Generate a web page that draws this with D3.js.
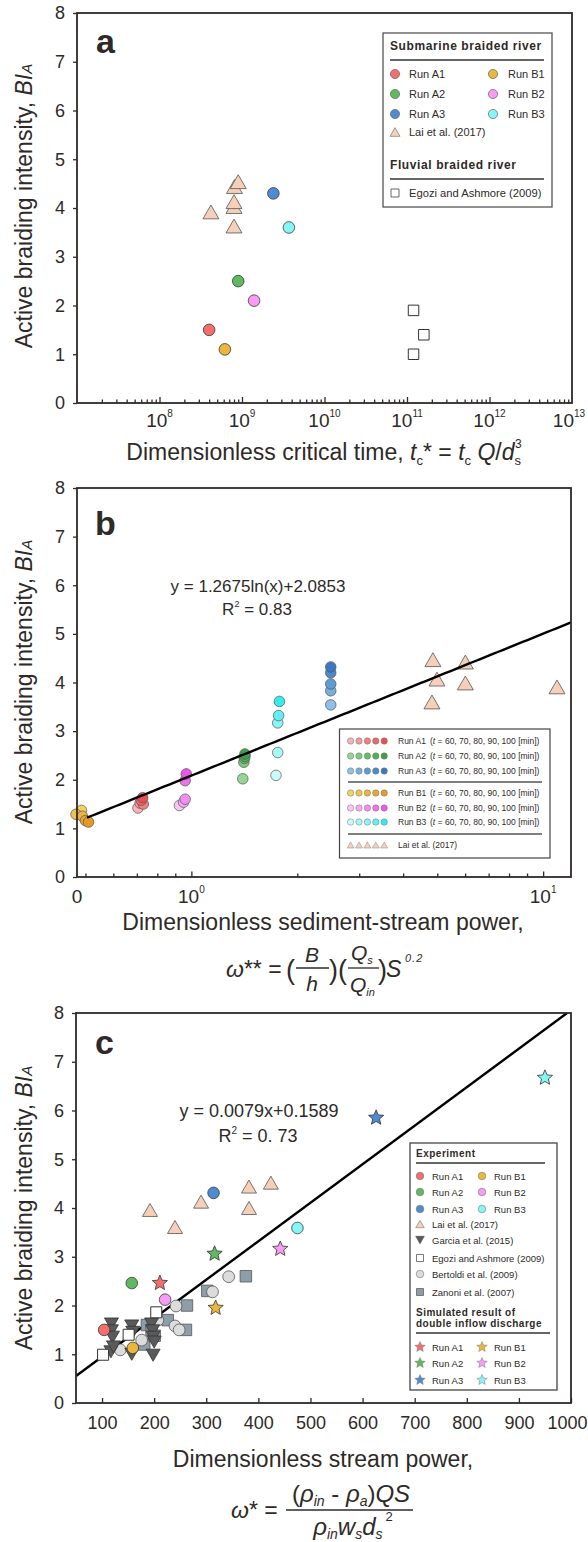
<!DOCTYPE html>
<html><head><meta charset="utf-8">
<script src="https://d3js.org/d3.v7.min.js"></script>
<style>
body{margin:0;background:#fff}
svg text{font-family:'Liberation Sans',Arial,Helvetica,sans-serif;fill:#2e2a28}
</style></head><body>
<svg id="chart" width="588" height="1542" xmlns="http://www.w3.org/2000/svg"></svg>
<script>
// ================= DATA =================
// shared run names
const runNames = ["Run A1","Run A2","Run A3","Run B1","Run B2","Run B3"];

// ---- Panel a : BI_A vs dimensionless critical time ----
const aRunT   = [4.0e8, 9.0e8, 2.4e9, 6.2e8, 1.4e9, 3.7e9];
const aRunBI  = [1.5, 2.5, 4.3, 1.1, 2.1, 3.6];
const aLaiT   = [4.2e8, 8.0e8, 8.0e8, 8.0e8, 8.1e8, 9.0e8];
const aLaiBI  = [3.92, 3.63, 4.03, 4.13, 4.44, 4.54];
const aEgoziT = [1.2e11, 1.6e11, 1.2e11];
const aEgoziBI= [1.9, 1.4, 1.0];
const aTickExp = [8, 9, 10, 11, 12, 13];

// ---- Panel b : BI_A vs dimensionless sediment-stream power (t = 60..100 min) ----
const bTimes = [60, 70, 80, 90, 100];
const bA1W = [0.705, 0.715, 0.73, 0.72, 0.727], bA1BI = [1.42, 1.52, 1.50, 1.58, 1.63];
const bA2W = [1.40, 1.41, 1.415, 1.42, 1.42],   bA2BI = [2.02, 2.36, 2.44, 2.48, 2.53];
const bA3W = [2.49, 2.49, 2.49, 2.49, 2.49],    bA3BI = [3.54, 3.83, 3.97, 4.20, 4.32];
const bB1W = [0.487, 0.47, 0.49, 0.50, 0.51],   bB1BI = [1.37, 1.29, 1.25, 1.16, 1.13];
const bB2W = [0.925, 0.95, 0.96, 0.96, 0.967],  bB2BI = [1.47, 1.54, 1.60, 1.98, 2.12];
const bB3W = [1.74, 1.76, 1.76, 1.77, 1.78],    bB3BI = [2.09, 2.56, 3.17, 3.32, 3.61];
const bLaiW = [4.86, 4.99, 6.01, 4.83, 6.01, 10.95];
const bLaiBI = [4.47, 4.07, 4.42, 3.60, 3.99, 3.91];
const bFitA = 1.2675, bFitB = 2.0853, bFitR2 = "0.83";
const bTickLabels = ["0", "10", "10"];

// ---- Panel c : BI_A vs dimensionless stream power ----
const cRunW  = [104, 157, 314, 159, 221, 475];
const cRunBI = [1.50, 2.46, 4.31, 1.13, 2.12, 3.59];
const cSimW  = [211, 316, 626, 318, 442, 950];
const cSimBI = [2.46, 3.06, 5.85, 1.95, 3.16, 6.67];
const cLaiW  = [192, 240, 290, 382, 382, 424];
const cLaiBI = [3.96, 3.61, 4.13, 4.44, 4.00, 4.52];
const cGarciaW  = [118, 118, 120, 117, 122, 157, 159, 157, 195, 197, 198, 200, 198];
const cGarciaBI = [1.62, 1.48, 1.35, 1.05, 1.15, 1.58, 1.45, 1.00, 1.62, 1.48, 1.35, 1.25, 0.98];
const cEgoziW  = [102, 151, 204];
const cEgoziBI = [0.99, 1.40, 1.86];
const cBertW  = [135, 176, 207, 240, 248, 242, 312, 343];
const cBertBI = [1.09, 1.29, 1.70, 1.58, 1.50, 1.99, 2.28, 2.59];
const cZanW  = [181, 186, 195, 201, 226, 261, 263, 302, 376];
const cZanBI = [1.20, 1.60, 1.50, 1.38, 1.70, 1.50, 2.00, 2.30, 2.60];
const cFitA = 0.0079, cFitB = 0.1589, cFitR2 = "0. 73";
const cTicks = [100, 200, 300, 400, 500, 600, 700, 800, 900, 1000];
const yTicks = [0, 1, 2, 3, 4, 5, 6, 7, 8];

// ================= STYLE =================
const runColors = ["#f46e6e", "#5fb961", "#4f8bd0", "#e8b73c", "#f79bf4", "#85f5f5"];
const timeColors = [
  ["#f8b4b4", "#f59999", "#f27f7f", "#ef6666", "#ec4e4e"],
  ["#93d694", "#7bcb7d", "#63bf67", "#4fb155", "#3fa146"],
  ["#8fc0e8", "#76aee0", "#5e9cd6", "#4c8acb", "#3b78be"],
  ["#f3d061", "#efc24c", "#ebb53c", "#e8a82e", "#e59b22"],
  ["#f8c6f6", "#f5aaf3", "#f28ef0", "#ef72ec", "#ec56e9"],
  ["#c8fafa", "#a8f7f7", "#88f4f4", "#60f0f0", "#38ebeb"]
];
const LAI = "#f6cfb8", GARCIA = "#5a5a5a", BERT = "#dcdcdc", ZAN = "#8e9ea9";
const INK = "#2e2a28", MST = "#3a3a3a";

const svg = d3.select("#chart");

// ================= HELPERS =================
function starPath(R) {
  const r = R * 0.45, p = [];
  for (let i = 0; i < 10; i++) {
    const a = -Math.PI / 2 + i * Math.PI / 5, rr = i % 2 ? r : R;
    p.push((rr * Math.cos(a)).toFixed(2) + "," + (rr * Math.sin(a)).toFixed(2));
  }
  return "M" + p.join("L") + "Z";
}
function triPath(s, down) {
  const h = s * Math.sqrt(3) / 2, k = down ? -1 : 1;
  return `M0,${(-k * h / 2).toFixed(2)}L${s / 2},${(k * h / 2).toFixed(2)}L${-s / 2},${(k * h / 2).toFixed(2)}Z`;
}
function sqPath(s) { return `M${-s / 2},${-s / 2}h${s}v${s}h${-s}Z`; }

function mark(g, shape, x, y, size, fill, stroke, sw) {
  stroke = stroke || MST; sw = sw == null ? 0.8 : sw;
  if (shape === "circle") {
    return g.append("circle").attr("cx", x).attr("cy", y).attr("r", size)
      .attr("fill", fill).attr("stroke", stroke).attr("stroke-width", sw);
  }
  let d;
  if (shape === "tri") d = triPath(size, false);
  else if (shape === "down") d = triPath(size, true);
  else if (shape === "sq") d = sqPath(size);
  else d = starPath(size);
  return g.append("path").attr("d", d).attr("transform", `translate(${x},${y})`)
    .attr("fill", fill).attr("stroke", stroke).attr("stroke-width", sw).attr("stroke-linejoin", "miter");
}

function text(x, y, s, size, opts) {
  opts = opts || {};
  const t = svg.append("text").attr("x", x).attr("y", y).attr("font-size", size)
    .attr("text-anchor", opts.anchor || "start");
  if (opts.bold) t.attr("font-weight", "bold");
  if (opts.italic) t.attr("font-style", "italic");
  if (opts.ls) t.attr("letter-spacing", opts.ls);
  if (s != null) t.text(s);
  return t;
}
function span(t, s, o) {
  o = o || {};
  const ts = t.append("tspan").text(s);
  if (o.it) ts.attr("font-style", "italic");
  if (o.size) ts.attr("font-size", o.size);
  if (o.dy) ts.attr("dy", o.dy);
  if (o.dx) ts.attr("dx", o.dx);
  return ts;
}

function frame(x, y) {
  const [x0, x1] = x.range(), [y0, y1] = y.range();
  svg.append("rect").attr("x", x0).attr("y", y1).attr("width", x1 - x0).attr("height", y0 - y1)
    .attr("fill", "none").attr("stroke", INK).attr("stroke-width", 1.8);
}
function yAxis(y, left) {
  const g = svg.append("g").attr("transform", `translate(${left},0)`)
    .call(d3.axisLeft(y).tickValues(yTicks).tickSize(4).tickPadding(8).tickFormat(d3.format("d")));
  g.select(".domain").remove();
  g.attr("font-size", 18).attr("font-family", "'Liberation Sans',Arial,sans-serif").attr("color", INK);
  g.selectAll("line").attr("stroke-width", 1.3);
}
function xTicks(x, bottom, vals, size) {
  const g = svg.append("g").attr("transform", `translate(0,${bottom})`)
    .call(d3.axisBottom(x).tickValues(vals).tickSize(-size).tickFormat(""));
  g.select(".domain").remove();
  g.attr("color", INK);
  g.selectAll("line").attr("stroke-width", 1.3);
}
function powLabel(x, y, base, exp) {
  const t = text(x, y, null, 19, { anchor: "middle" });
  span(t, base);
  if (exp != null) span(t, exp, { size: 10, dy: -10 });
}
function yTitle(cy) {
  const t = svg.append("text").attr("transform", `translate(32,${cy}) rotate(-90)`)
    .attr("text-anchor", "middle").attr("font-size", 23);
  span(t, "Active braiding intensity, ");
  span(t, "BI", { it: true });
  span(t, "A", { it: true, size: 15 });
}

// ================= PANEL A =================
const xa = d3.scaleLog().domain([1e7, 1e13]).range([77, 572]);
const ya = d3.scaleLinear().domain([0, 8]).range([403, 13]);
{
  const g = svg.append("g");
  aLaiT.forEach((t, i) => mark(g, "tri", xa(t), ya(aLaiBI[i]), 16, LAI, "#555"));
  aRunT.forEach((t, i) => mark(g, "circle", xa(t), ya(aRunBI[i]), 5.8, runColors[i]));
  aEgoziT.forEach((t, i) => mark(g, "sq", xa(t), ya(aEgoziBI[i]), 10.5, "#fff", "#333", 1));
  frame(xa, ya);
  yAxis(ya, 77);
  const major = aTickExp.slice(0, 5).map(e => Math.pow(10, e));
  const minor = [];
  for (let e = 7; e < 13; e++) for (let k = 2; k <= 9; k++) minor.push(k * Math.pow(10, e));
  xTicks(xa, 403, major, 6);
  xTicks(xa, 403, minor, 3.5);
  aTickExp.forEach(e => powLabel(xa(Math.pow(10, e)) - (e === 13 ? 3 : 0), 427, "10", String(e)));
  text(96, 53, "a", 34, { bold: true });
  yTitle(206);
  const t = text(324, 460, null, 23, { anchor: "middle" });
  span(t, "Dimensionless critical time, ");
  span(t, "t", { it: true });
  span(t, "c", { size: 13, dy: 5 });
  span(t, "* = ", { dy: -5 });
  span(t, "t", { it: true });
  span(t, "c", { size: 13, dy: 5 });
  span(t, " Q", { it: true, dy: -5 });
  span(t, "/");
  span(t, "d", { it: true });
  span(t, "s", { size: 13, dy: 5 });
  span(t, "3", { size: 12, dx: -6, dy: -17 });

  // legend a
  const L = svg.append("g");
  L.append("rect").attr("x", 383).attr("y", 33).attr("width", 169).attr("height", 174)
    .attr("fill", "#fff").attr("stroke", "#555").attr("stroke-width", 1.3);
  text(390, 50, "Submarine braided river", 12, { bold: true, ls: 0.6 });
  L.append("line").attr("x1", 390).attr("x2", 544).attr("y1", 60).attr("y2", 60).attr("stroke", "#333").attr("stroke-width", 1.5);
  const mx = [395, 493], tx = [409, 508], ry = [74, 94, 114];
  runNames.forEach((n, i) => {
    const c = Math.floor(i / 3), r = i % 3;
    mark(L, "circle", mx[c], ry[r], 4.6, runColors[i], "#666", 0.7);
    text(tx[c], ry[r] + 4, n, 11);
  });
  mark(L, "tri", 395, 132, 10, LAI, "#777", 0.7);
  text(409, 136, "Lai et al. (2017)", 11);
  text(390, 169, "Fluvial braided river", 12, { bold: true, ls: 0.6 });
  L.append("line").attr("x1", 390).attr("x2", 544).attr("y1", 179).attr("y2", 179).attr("stroke", "#333").attr("stroke-width", 1.5);
  mark(L, "sq", 395, 193, 8, "#fff", "#444", 0.8);
  text(409, 197, "Egozi and Ashmore (2009)", 11.2);
}

// ================= PANEL B =================
const xb = d3.scaleLog().domain([0.473, 12.0]).range([77, 571]);
const yb = d3.scaleLinear().domain([0, 8]).range([877, 488]);
{
  const g = svg.append("g");
  const groups = [[bA1W, bA1BI], [bA2W, bA2BI], [bA3W, bA3BI], [bB1W, bB1BI], [bB2W, bB2BI], [bB3W, bB3BI]];
  groups.forEach((gr, ri) => {
    gr[0].forEach((w, i) => mark(g, "circle", xb(w), yb(gr[1][i]), 5.3, timeColors[ri][i], "#555", 0.7));
  });
  bLaiW.forEach((w, i) => mark(g, "tri", xb(w), yb(bLaiBI[i]), 16, LAI, "#555"));
  // fit line
  const fx = d3.range(0, 101).map(k => 0.505 * Math.pow(12.0 / 0.505, k / 100));
  const line = d3.line().x(d => xb(d)).y(d => yb(bFitA * Math.log(d) + bFitB));
  svg.append("path").attr("d", line(fx)).attr("fill", "none").attr("stroke", "#000").attr("stroke-width", 2.4);
  frame(xb, yb);
  yAxis(yb, 77);
  xTicks(xb, 877, [1, 10], 5.5);
  xTicks(xb, 877, [0.5, 0.6, 0.7, 0.8, 0.9, 2, 3, 4, 5, 6, 7, 8, 9], 3.5);
  powLabel(77, 903, bTickLabels[0], null);
  powLabel(xb(1), 903, bTickLabels[1], "0");
  powLabel(xb(10), 903, bTickLabels[2], "1");
  text(95, 535, "b", 34, { bold: true });
  yTitle(682);
  text(258, 592, "y = " + bFitA + "ln(x)+" + bFitB, 17, { anchor: "middle" });
  const e2 = text(257, 615, null, 17, { anchor: "middle" });
  span(e2, "R"); span(e2, "2", { size: 9, dy: -8 }); span(e2, " = " + bFitR2, { dy: 8 });

  text(323, 930, "Dimensionless sediment-stream power,", 23, { anchor: "middle" });
  // formula  ω** = (B/h)(Qs/Qin)S^0.2
  const f1 = text(226, 977, null, 23);
  span(f1, "ω", { it: true }); span(f1, "** =");
  text(286, 979, "(", 27);
  text(312, 962, "B", 21, { italic: true, anchor: "middle" });
  svg.append("line").attr("x1", 296).attr("x2", 329).attr("y1", 968).attr("y2", 968).attr("stroke", INK).attr("stroke-width", 1.3);
  text(312, 991, "h", 21, { italic: true, anchor: "middle" });
  text(329, 979, ")(", 27);
  const q1 = text(351, 960, null, 21, { italic: true });
  span(q1, "Q"); span(q1, "s", { size: 11, dy: 4 });
  svg.append("line").attr("x1", 348).attr("x2", 379).attr("y1", 968).attr("y2", 968).attr("stroke", INK).attr("stroke-width", 1.3);
  const q2 = text(350, 992, null, 21, { italic: true });
  span(q2, "Q"); span(q2, "in", { size: 11, dy: 4 });
  text(378, 979, ")", 27);
  text(386, 977, "S", 23, { italic: true });
  text(405, 962, "0.2", 11, { italic: true, ls: 1 });

  // legend b
  const L = svg.append("g");
  L.append("rect").attr("x", 339.5).attr("y", 729).attr("width", 210.5).attr("height", 129)
    .attr("fill", "#fff").attr("stroke", "#444").attr("stroke-width", 1.2);
  const rows = [741, 756, 771, 793, 808, 822];
  runNames.forEach((n, ri) => {
    bTimes.forEach((tm, k) => mark(L, "circle", 350.6 + k * 8.4, rows[ri], 3.2, timeColors[ri][k], "#777", 0.5));
    text(398, rows[ri] + 3, n, 8.5);
    const tt = text(430, rows[ri] + 3, null, 8.5);
    span(tt, "("); span(tt, "t", { it: true }); span(tt, " = " + bTimes.join(", ") + " [min])");
  });
  [782, 834].forEach(yy => L.append("line").attr("x1", 348).attr("x2", 542).attr("y1", yy).attr("y2", yy).attr("stroke", "#555").attr("stroke-width", 1.3));
  bTimes.forEach((tm, k) => mark(L, "tri", 350.6 + k * 8.4, 845, 7, LAI, "#888", 0.5));
  text(398, 848, "Lai et al. (2017)", 8.5);
}

// ================= PANEL C =================
const xc = d3.scaleLinear().domain([50, 1000]).range([76, 571]);
const yc = d3.scaleLinear().domain([0, 8]).range([1403, 1013]);
{
  const x1 = (8 - cFitB) / cFitA;
  svg.append("path").attr("d", d3.line()([[xc(50), yc(cFitA * 50 + cFitB)], [xc(x1), yc(8)]]))
    .attr("fill", "none").attr("stroke", "#000").attr("stroke-width", 2.4);
  const g = svg.append("g");
  cZanW.forEach((w, i) => mark(g, "sq", xc(w), yc(cZanBI[i]), 11.5, ZAN, "#555", 0.8));
  cBertW.forEach((w, i) => mark(g, "circle", xc(w), yc(cBertBI[i]), 5.9, BERT, "#555", 0.8));
  cGarciaW.forEach((w, i) => mark(g, "down", xc(w), yc(cGarciaBI[i]), 14, GARCIA, "#333", 0.8));
  cEgoziW.forEach((w, i) => mark(g, "sq", xc(w), yc(cEgoziBI[i]), 11, "#fff", "#333", 1));
  cLaiW.forEach((w, i) => mark(g, "tri", xc(w), yc(cLaiBI[i]), 15, LAI, "#555"));
  cRunW.forEach((w, i) => mark(g, "circle", xc(w), yc(cRunBI[i]), 5.8, runColors[i]));
  cSimW.forEach((w, i) => mark(g, "star", xc(w), yc(cSimBI[i]), 8, runColors[i], "#333", 0.8));
  frame(xc, yc);
  yAxis(yc, 76);
  const ga = svg.append("g").attr("transform", "translate(0,1403)")
    .call(d3.axisBottom(xc).tickValues(cTicks).tickSize(-5).tickPadding(13).tickFormat(d3.format("d")));
  ga.select(".domain").remove();
  ga.attr("font-size", 18).attr("font-family", "'Liberation Sans',Arial,sans-serif").attr("color", INK);
  ga.selectAll("line").attr("stroke-width", 1.3);
  ga.selectAll(".tick text").filter(d => d === 1000).attr("text-anchor", "end").attr("dx", 16);
  text(95, 1054, "c", 34, { bold: true });
  yTitle(1208);
  text(259, 1117, "y = " + cFitA + "x+" + cFitB, 18, { anchor: "middle" });
  const e2 = text(258, 1142, null, 18, { anchor: "middle" });
  span(e2, "R"); span(e2, "2", { size: 10, dy: -8 }); span(e2, " = " + cFitR2, { dy: 8 });

  text(323, 1467, "Dimensionless stream power,", 23, { anchor: "middle" });
  const w1 = text(231, 1518, null, 23);
  span(w1, "ω", { it: true }); span(w1, "* =");
  svg.append("line").attr("x1", 286).attr("x2", 413).attr("y1", 1510).attr("y2", 1510).attr("stroke", INK).attr("stroke-width", 1.3);
  const nu = text(351, 1502, null, 24, { anchor: "middle" });
  span(nu, "("); span(nu, "ρ", { it: true }); span(nu, "in", { it: true, size: 14, dy: 4 });
  span(nu, " - ", { dy: -4 }); span(nu, "ρ", { it: true }); span(nu, "a", { it: true, size: 14, dy: 4 });
  span(nu, ")", { dy: -4 }); span(nu, "QS", { it: true });
  const de = text(353, 1535, null, 24, { anchor: "middle" });
  span(de, "ρ", { it: true }); span(de, "in", { it: true, size: 14, dy: 4 });
  span(de, "w", { it: true, dy: -4 }); span(de, "s", { it: true, size: 14, dy: 4 });
  span(de, "d", { it: true, dy: -4 }); span(de, "s", { it: true, size: 14, dy: 4 });
  span(de, "2", { size: 13, dx: 3, dy: -18 });

  // legend c
  const L = svg.append("g");
  L.append("rect").attr("x", 410).attr("y", 1143).attr("width", 147).attr("height", 247)
    .attr("fill", "#fff").attr("stroke", "#444").attr("stroke-width", 1.3);
  text(416, 1157, "Experiment", 10, { bold: true, ls: 0.5 });
  L.append("line").attr("x1", 416).attr("x2", 545).attr("y1", 1163).attr("y2", 1163).attr("stroke", "#333").attr("stroke-width", 1.5);
  const mx = [420, 482], tx = [432, 494], ry = [1176, 1192, 1209];
  runNames.forEach((n, i) => {
    const c = Math.floor(i / 3), r = i % 3;
    mark(L, "circle", mx[c], ry[r], 3.8, runColors[i], "#777", 0.6);
    text(tx[c], ry[r] + 3.5, n, 9.5);
  });
  mark(L, "tri", 420, 1224, 8.5, LAI, "#777", 0.6); text(432, 1227.5, "Lai et al. (2017)", 9.5);
  mark(L, "down", 420, 1240, 8.5, GARCIA, "#444", 0.6); text(432, 1243.5, "Garcia et al. (2015)", 9.5);
  mark(L, "sq", 420, 1258, 7, "#fff", "#444", 0.7); text(432, 1261.5, "Egozi and Ashmore (2009)", 9.5);
  mark(L, "circle", 420, 1274, 3.8, BERT, "#777", 0.6); text(432, 1277.5, "Bertoldi et al. (2009)", 9.5);
  mark(L, "sq", 420, 1292, 7, ZAN, "#555", 0.7); text(432, 1295.5, "Zanoni et al. (2007)", 9.5);
  text(416, 1316, "Simulated result of", 10, { bold: true, ls: 0.5 });
  text(416, 1327, "double inflow discharge", 10, { bold: true, ls: 0.5 });
  L.append("line").attr("x1", 416).attr("x2", 550).attr("y1", 1333).attr("y2", 1333).attr("stroke", "#333").attr("stroke-width", 1.5);
  const sy = [1347, 1363, 1380];
  runNames.forEach((n, i) => {
    const c = Math.floor(i / 3), r = i % 3;
    mark(L, "star", mx[c], sy[r], 5.5, runColors[i], "#777", 0.5);
    text(tx[c], sy[r] + 3.5, n, 9.5);
  });
}
</script></body></html>
